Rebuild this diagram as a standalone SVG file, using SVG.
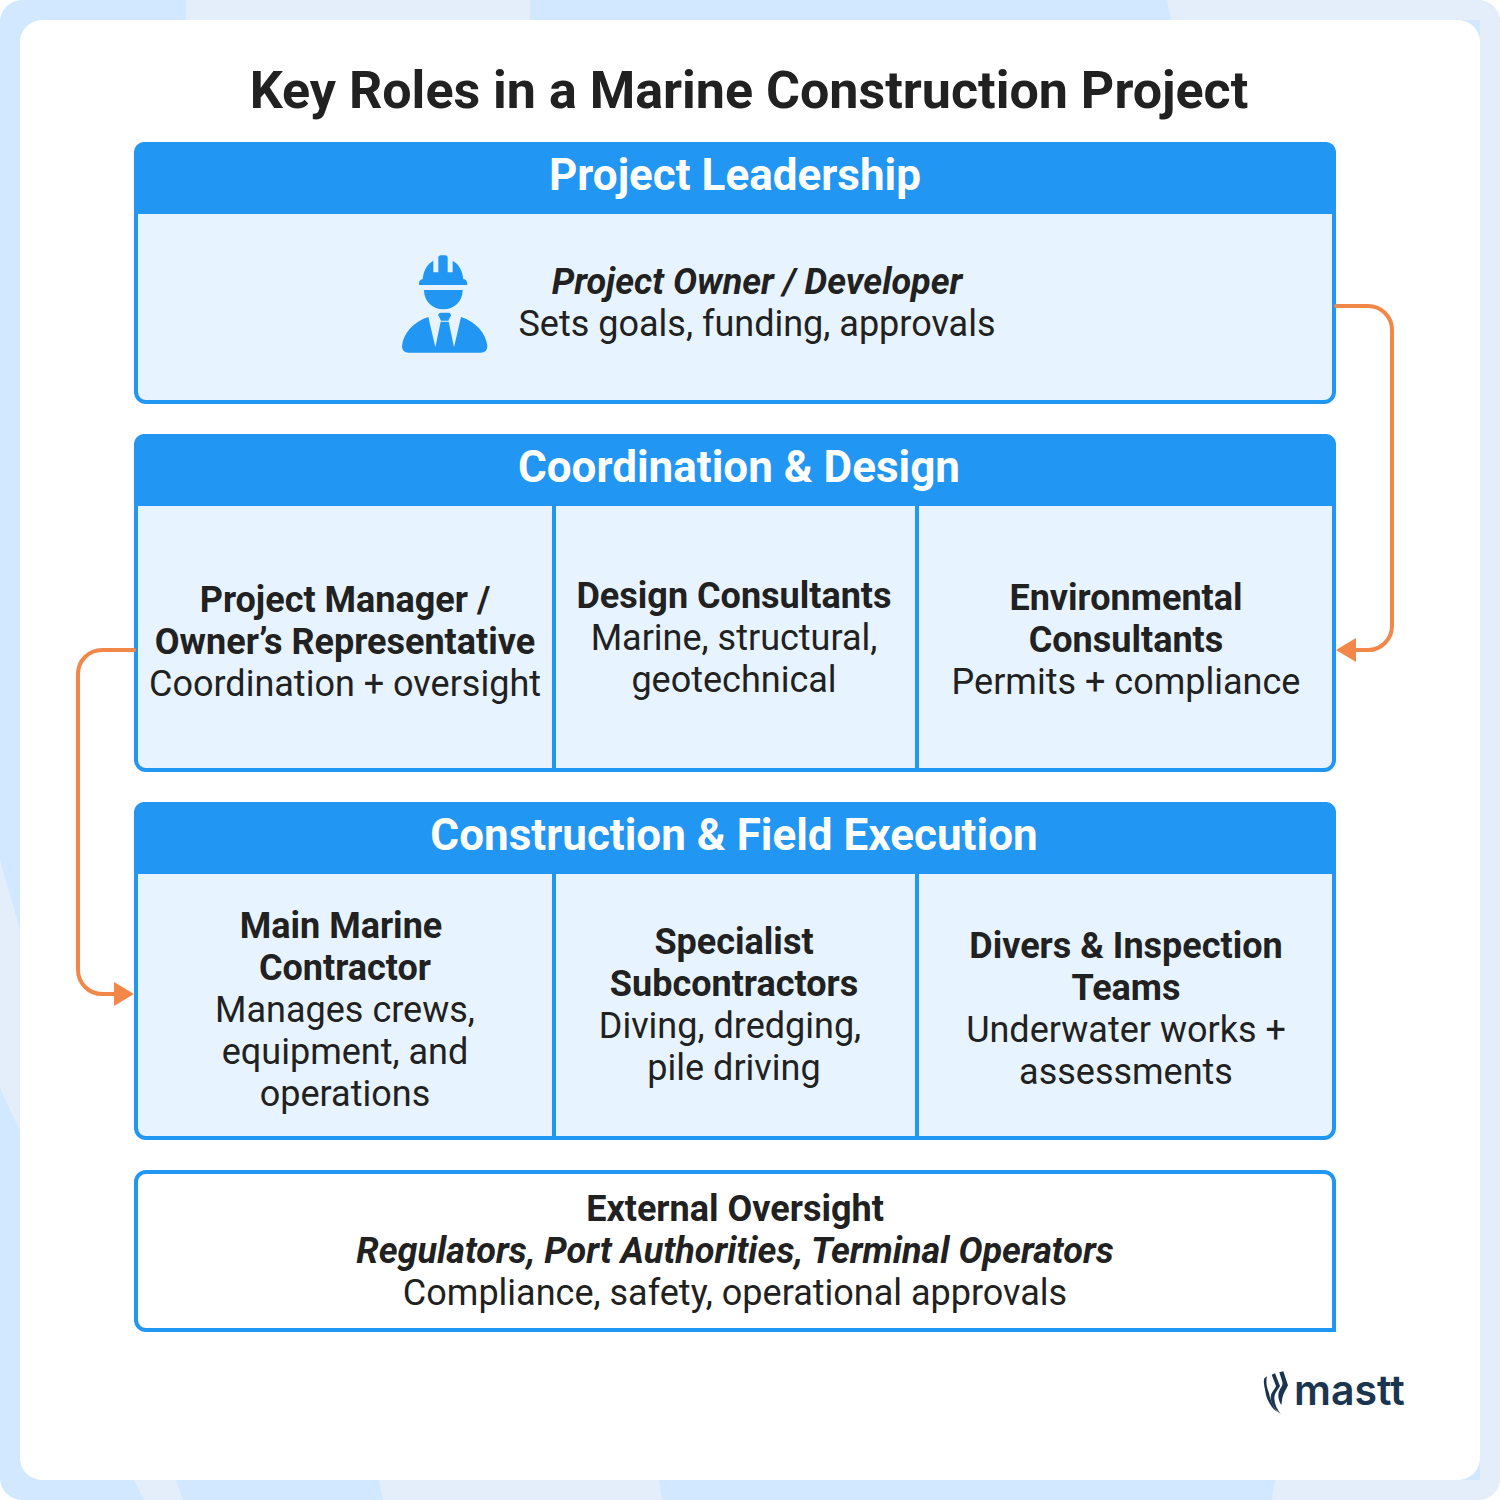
<svg xmlns="http://www.w3.org/2000/svg" width="1500" height="1500" viewBox="0 0 1500 1500">
<style>
text{font-family:Roboto,"Liberation Sans",sans-serif;fill:#212121;text-anchor:middle;font-size:36px}
.title{font-size:52px;font-weight:700}
.head{font-size:44px;font-weight:700;fill:#fff}
.b{font-weight:700}
.bi{font-weight:700;font-style:italic}
.band{fill:#2196F3}
.panel{fill:#E7F4FF;stroke:#2196F3;stroke-width:4}
.div{stroke:#2196F3;stroke-width:4;fill:none}
.conn{fill:none;stroke:#F2874A;stroke-width:4;stroke-linecap:round}
.head-arrow{fill:#F2874A}
.pale{fill:#E3EEFA}
.icon{fill:#2196F3}
.logo{font-family:Inter,Roboto,sans-serif;font-size:41px;font-weight:600;fill:#1B3550;text-anchor:start}
.mark{fill:#1B3550}
</style>
<defs>
<clipPath id="frame"><rect width="1500" height="1500" rx="22"/></clipPath>
</defs>
<rect width="1500" height="1500" fill="#fff"/>
<g id="background" clip-path="url(#frame)">
<rect width="1500" height="1500" fill="#D1E8FF"/>
<polygon class="pale" points="186,0 530,0 530,20 186,20"/>
<polygon class="pale" points="1167,0 1500,0 1500,1500 1272,1500 1275,1480 1480,1480 1480,20 1171,20"/>
<polygon class="pale" points="134,1480 176,1480 183,1500 144,1500"/>
<polygon class="pale" points="379,1480 659,1480 662,1500 383,1500"/>
<polygon class="pale" points="0,860 20,930 20,1131 0,1088"/>
</g>
<rect id="card" x="20" y="20" width="1460" height="1460" rx="22" fill="#fff"/>
<text class="title" x="749" y="108">Key Roles in a Marine Construction Project</text>

<g id="project-leadership">
<rect class="panel" x="136" y="144" width="1198" height="258" rx="10"/>
<path class="band" d="M134,214V152a10,10 0 0 1 10-10H1326a10,10 0 0 1 10,10V214Z"/>
<text class="head" x="735" y="190">Project Leadership</text>
<g id="owner-icon" class="icon" transform="translate(380 240) scale(.33333)">
<path d="M117,128Q117,122 125,118H128C130,92 142,72 160,62V97H175V54Q175,46 183,46H195Q203,46 203,54V97H218V62C236,72 248,92 250,118H254Q262,122 262,135H117Z"/>
<path d="M132,150H248C248,185 222,208 190,208C158,208 132,185 132,150Z"/>
<path d="M175,226Q175,218 183,218H205Q213,218 213,226L205,242H183Z"/>
<path d="M66,318C70,280 100,245 145,231L166,322L182,245H206L222,322L243,231C288,245 318,280 322,318Q322,338 302,338H86Q66,338 66,318Z"/>
</g>
<text class="bi" x="757" y="294">Project Owner / Developer</text>
<text x="757" y="336">Sets goals, funding, approvals</text>
</g>

<g id="coordination-design">
<rect class="panel" x="136" y="436" width="1198" height="334" rx="10"/>
<path class="band" d="M134,506V444a10,10 0 0 1 10-10H1326a10,10 0 0 1 10,10V506Z"/>
<path class="div" d="M554,506V770M917,506V770"/>
<text class="head" x="739" y="482">Coordination &amp; Design</text>
<g id="project-manager">
<text class="b" x="345" y="612">Project Manager /</text>
<text class="b" x="345" y="654">Owner’s Representative</text>
<text x="345" y="696">Coordination + oversight</text>
</g>
<g id="design-consultants">
<text class="b" x="734" y="608">Design Consultants</text>
<text x="734" y="650">Marine, structural,</text>
<text x="734" y="692">geotechnical</text>
</g>
<g id="environmental-consultants">
<text class="b" x="1126" y="610">Environmental</text>
<text class="b" x="1126" y="652">Consultants</text>
<text x="1126" y="694">Permits + compliance</text>
</g>
</g>

<g id="construction-field">
<rect class="panel" x="136" y="804" width="1198" height="334" rx="10"/>
<path class="band" d="M134,874V812a10,10 0 0 1 10-10H1326a10,10 0 0 1 10,10V874Z"/>
<path class="div" d="M554,874V1138M917,874V1138"/>
<text class="head" x="734" y="850">Construction &amp; Field Execution</text>
<g id="main-contractor">
<text class="b" x="341" y="938">Main Marine</text>
<text class="b" x="345" y="980">Contractor</text>
<text x="345" y="1022">Manages crews,</text>
<text x="345" y="1064">equipment, and</text>
<text x="345" y="1106">operations</text>
</g>
<g id="specialist-subcontractors">
<text class="b" x="734" y="954">Specialist</text>
<text class="b" x="734" y="996">Subcontractors</text>
<text x="730" y="1038">Diving, dredging,</text>
<text x="734" y="1080">pile driving</text>
</g>
<g id="divers-inspection">
<text class="b" x="1126" y="958">Divers &amp; Inspection</text>
<text class="b" x="1126" y="1000">Teams</text>
<text x="1126" y="1042">Underwater works +</text>
<text x="1126" y="1084">assessments</text>
</g>
</g>

<g id="external-oversight">
<path d="M136,1320V1182a10,10 0 0 1 10-10H1324a10,10 0 0 1 10,10V1330H146a10,10 0 0 1-10-10Z" fill="#fff" stroke="#2196F3" stroke-width="4"/>
<text class="b" x="735" y="1221">External Oversight</text>
<text class="bi" x="735" y="1263">Regulators, Port Authorities, Terminal Operators</text>
<text x="735" y="1305">Compliance, safety, operational approvals</text>
</g>

<g id="connectors">
<path class="conn" d="M1336,306H1368a24,24 0 0 1 24,24V626a24,24 0 0 1-24,24H1354"/>
<polygon class="head-arrow" points="1336,650 1356,638 1356,662"/>
<path class="conn" d="M134,650H102a24,24 0 0 0-24,24V970a24,24 0 0 0 24,24H116"/>
<polygon class="head-arrow" points="134,994 114,982 114,1006"/>
</g>

<g id="logo">
<g class="mark" transform="translate(1240 1350) scale(.33333)">
<path d="M118,67L130,64L144,106C138,120 130,130 127,144L124,165C115,150 112,134 119,119C126,108 129,104 127,96Z"/>
<path d="M95,74L105,70L120,108C112,122 103,130 103,146C104,164 112,178 122,192C105,180 92,160 92,142C93,126 105,118 108,108Z"/>
<path d="M73,85L81,79C77,96 80,110 86,126C90,148 99,170 112,186C93,174 78,146 76,124C74,110 69,98 73,85Z"/>
</g>
<text class="logo" x="1294" y="1405">mastt</text>
</g>
</svg>
